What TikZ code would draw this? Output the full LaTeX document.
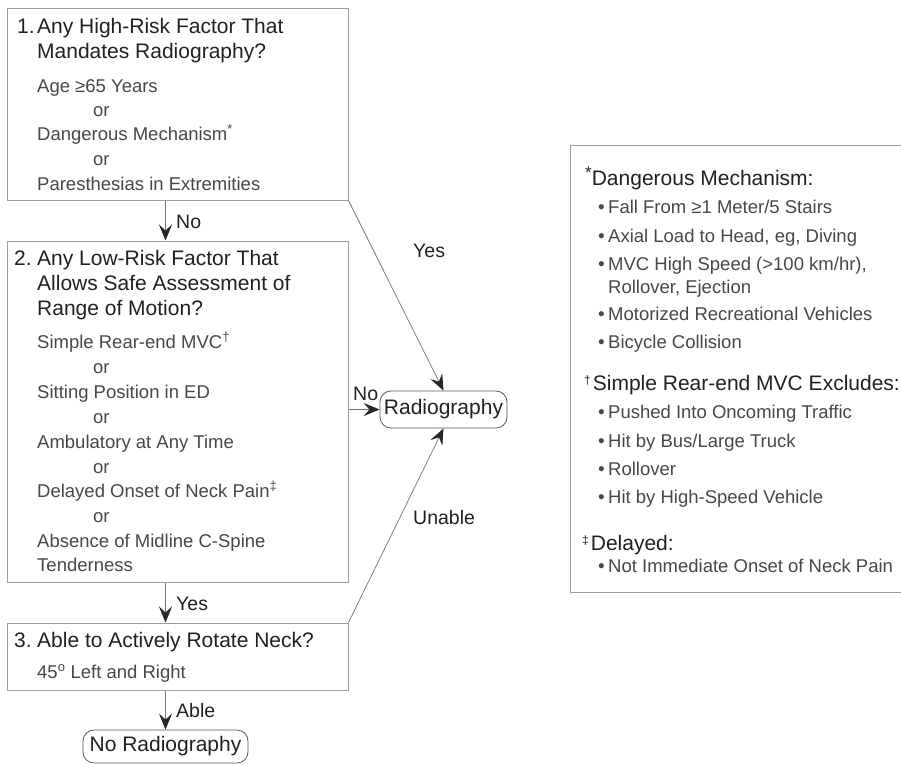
\documentclass[tikz,border=0pt]{standalone}
\usepackage{fontspec}
\setmainfont{Liberation Sans}
\usetikzlibrary{arrows.meta}
\definecolor{boxgray}{gray}{0.62}
\definecolor{linegray}{gray}{0.45}
\definecolor{titlecol}{gray}{0.13}
\definecolor{bodycol}{gray}{0.28}
\newcommand\myTitleFont{\fontsize{21}{25}\selectfont}
\newcommand\myBodyFont{\fontsize{18.5}{22}\selectfont}
\newcommand\myLabelFont{\fontsize{19.5}{23}\selectfont}
\newcommand\myBul{\makebox[10pt][l]{\raisebox{0pt}{\fontsize{19}{19}\selectfont •}}}
\begin{document}
\begin{tikzpicture}[x=1pt,y=-1pt,
  flowbox/.style={draw=boxgray, line width=1pt, rectangle, inner sep=0pt, minimum width=341pt},
  endbox/.style={draw=black!65, line width=0.8pt, rectangle, rounded corners=11pt, inner sep=0pt, text=titlecol, font=\myTitleFont},
  tt/.style={anchor=base west, inner sep=0pt, text=titlecol, font=\myTitleFont},
  bt/.style={anchor=base west, inner sep=0pt, text=bodycol, font=\myBodyFont},
  lab/.style={anchor=base west, inner sep=0pt, text=titlecol, font=\myLabelFont},
  frameline/.style={draw=boxgray, line width=1pt},
  conn/.style={draw=linegray, line width=0.7pt, -{Stealth[length=16pt,width=13pt,inset=6pt,color=black!85]}}
]
\fill[white] (0,0) rectangle (901,764);
\useasboundingbox (0,0) rectangle (901,764);

% boxes
\node[flowbox, minimum height=192pt] (b1) at (177.5,104) {};
\node[flowbox, minimum height=341pt] (b2) at (177.5,411.5) {};
\node[flowbox, minimum height=67pt] (b3) at (177.5,656.5) {};
\node[endbox, minimum width=127pt, minimum height=37pt] (rad) at (443.5,409.5) {Radiography};
\node[endbox, minimum width=165pt, minimum height=33pt] (nr) at (165.5,746.5) {No Radiography};

% legend frame (open on the right, cut by the picture edge)
\coordinate (lgTL) at (570,145);
\coordinate (lgBL) at (570,592);
\coordinate (lgTR) at (901,145);
\coordinate (lgBR) at (901,592);
\draw[frameline] (lgTL) -- (lgTR);
\draw[frameline] (lgBL) -- (lgBR);
\draw[frameline] (lgTL) -- (lgBL);

% box 1 text
\node[tt] (n1) at (17,33) {1.};
\node[tt] (t1a) at (37,33) {Any High-Risk Factor That};
\node[tt] (t1b) at (37,58) {Mandates Radiography?};
\node[bt] (s1a) at (37,92) {Age ≥65 Years};
\node[bt] (o1a) at (93,116) {or};
\node[bt] (s1b) at (37,140) {Dangerous Mechanism\textsuperscript{*}};
\node[bt] (o1b) at (93,165) {or};
\node[bt] (s1c) at (37,190) {Paresthesias in Extremities};

% box 2 text
\node[tt] (n2) at (14,265) {2.};
\node[tt] (t2a) at (37,265) {Any Low-Risk Factor That};
\node[tt] (t2b) at (37,290) {Allows Safe Assessment of};
\node[tt] (t2c) at (37,315) {Range of Motion?};
\node[bt] (s2a) at (37,348) {Simple Rear-end MVC\textsuperscript{†}};
\node[bt] (o2a) at (93,373) {or};
\node[bt] (s2b) at (37,398) {Sitting Position in ED};
\node[bt] (o2b) at (93,423) {or};
\node[bt] (s2c) at (37,448) {Ambulatory at Any Time};
\node[bt] (o2c) at (93,473) {or};
\node[bt] (s2d) at (37,497) {Delayed Onset of Neck Pain\textsuperscript{‡}};
\node[bt] (o2d) at (93,522) {or};
\node[bt] (s2e) at (37,547) {Absence of Midline C-Spine};
\node[bt] (s2f) at (37,571) {Tenderness};

% box 3 text
\node[tt] (n3) at (14,647) {3.};
\node[tt] (t3a) at (37,647) {Able to Actively Rotate Neck?};
\node[bt] (s3a) at (37,678) {45\textsuperscript{o} Left and Right};

% connectors
\draw[conn] (b1.south -| nr.north) -- (b2.north -| nr.north);
\draw[conn] (b2.south -| nr.north) -- (b3.north -| nr.north);
\draw[conn] (b3.south -| nr.north) -- (nr.north);
\draw[conn] (b1.south east) -- (rad.north);
\draw[conn] (b2.east |- rad.west) -- (rad.west);
\draw[conn] (b3.north east) -- (rad.south);

% labels
\node[lab] (lno1) at (176,228) {No};
\node[lab] (lyes2) at (176,610) {Yes};
\node[lab] (lable) at (176,717) {Able};
\node[lab] (lno2) at (353,400) {No};
\node[lab] (lyes1) at (413,257) {Yes};
\node[lab] (lunable) at (413,524) {Unable};

% legend text
\node[tt] (h1) at (585,185) {\raisebox{7pt}{\fontsize{17}{17}\selectfont *}Dangerous Mechanism:};
\node[bt] (l1a) at (598,213) {\myBul Fall From ≥1 Meter/5 Stairs};
\node[bt] (l1b) at (598,242) {\myBul Axial Load to Head, eg, Diving};
\node[bt] (l1c) at (598,270) {\myBul MVC High Speed (>100 km/hr),};
\node[bt] (l1d) at (608,293) {Rollover, Ejection};
\node[bt] (l1e) at (598,320) {\myBul Motorized Recreational Vehicles};
\node[bt] (l1f) at (598,348) {\myBul Bicycle Collision};
\node[tt] (h2) at (584,390) {\raisebox{6pt}{\fontsize{12}{12}\selectfont †}\hspace{2pt}Simple Rear-end MVC Excludes:};
\node[bt] (l2a) at (598,418) {\myBul Pushed Into Oncoming Traffic};
\node[bt] (l2b) at (598,447) {\myBul Hit by Bus/Large Truck};
\node[bt] (l2c) at (598,475) {\myBul Rollover};
\node[bt] (l2d) at (598,503) {\myBul Hit by High-Speed Vehicle};
\node[tt] (h3) at (582,550) {\raisebox{6pt}{\fontsize{12}{12}\selectfont ‡}\hspace{2pt}Delayed:};
\node[bt] (l3a) at (598,572) {\myBul Not Immediate Onset of Neck Pain};
\end{tikzpicture}
\end{document}
